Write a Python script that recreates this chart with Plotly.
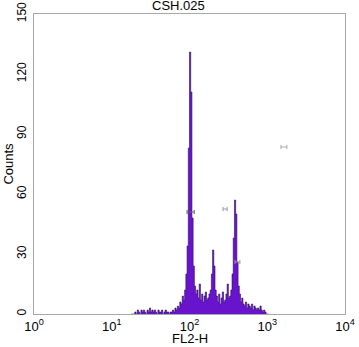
import plotly.graph_objects as go
import numpy as np

# Histogram: 256 log channels over 4 decades; counts for channels starting at first_channel
channels_per_decade = 64
first_channel = 80
counts = [0, 0, 0, 1, 0, 2, 1, 0, 2, 1,
          2, 1, 0, 2, 1, 3, 1, 2, 1, 2,
          1, 0, 2, 1, 1, 2, 0, 1, 2, 1,
          1, 0, 1, 1, 2, 1, 3, 2, 4, 3,
          6, 5, 9, 7, 12, 20, 34, 83, 131, 111,
          48, 24, 14, 10, 12, 8, 15, 7, 10, 6,
          9, 11, 7, 8, 10, 12, 20, 32, 24, 12,
          9, 6, 10, 5, 8, 11, 6, 7, 10, 15,
          8, 9, 12, 20, 38, 57, 50, 26, 14, 10,
          6, 8, 5, 4, 6, 3, 5, 4, 3, 5,
          2, 4, 3, 2, 3, 2, 4, 2, 1, 2,
          1, 0, 0]

# Gate markers (FL2-H range and count level)
gate_lo = [93, 270, 385, 1500]
gate_hi = [115, 305, 445, 1790]
gate_y = [51, 52.5, 26, 83.5]
gate_colors = ["#666666", "#999999", "#999999", "#aaaaaa"]

x_tickvals = [1, 10, 100, 1000, 10000]
x_ticktext = ["10<sup>0</sup>", "10<sup>1</sup>", "10<sup>2</sup>", "10<sup>3</sup>", "10<sup>4</sup>"]
y_tickvals = [0, 30, 60, 90, 120, 150]

n = len(counts)
ch = np.arange(first_channel, first_channel + n + 1)
edges = 10 ** (ch / channels_per_decade)
yvals = list(counts) + [counts[-1]]

fig = go.Figure()
fig.add_trace(go.Scatter(
    x=edges, y=yvals, mode="lines", line_shape="hv",
    fill="tozeroy", fillcolor="#6814cc",
    line=dict(color="#2e0b5c", width=0.6),
    hoverinfo="skip", showlegend=False))

for lo, hi, yy, c in zip(gate_lo, gate_hi, gate_y, gate_colors):
    fig.add_trace(go.Scatter(
        x=[lo, hi], y=[yy, yy], mode="lines+markers",
        line=dict(color=c, width=1),
        marker=dict(symbol="line-ns", size=3, line=dict(color=c, width=1)),
        showlegend=False, hoverinfo="skip"))

FONT = "Liberation Sans, Arial, sans-serif"
fig.update_layout(
    width=359, height=347,
    margin=dict(l=34, r=14, t=14, b=33, autoexpand=False),
    paper_bgcolor="white", plot_bgcolor="white",
    font=dict(family=FONT, size=12, color="black"),
    xaxis=dict(type="log", range=[0, 4], tickvals=x_tickvals, ticktext=x_ticktext,
               showgrid=False, zeroline=False, showline=True, linecolor="#a8a8a8",
               linewidth=1, mirror=True, ticks="", tickfont=dict(size=13),
               automargin=False),
    yaxis=dict(range=[0, 150], tickvals=y_tickvals, tickangle=-90,
               showgrid=False, zeroline=False, showline=True, linecolor="#a8a8a8",
               linewidth=1, mirror=True, ticks="", tickfont=dict(size=12),
               automargin=False, ticklabelstandoff=2),
    annotations=[
        dict(text="CSH.025", xref="paper", yref="paper", x=0.466, y=1.0,
             xanchor="center", yanchor="bottom", showarrow=False, borderpad=0,
             font=dict(size=13)),
        dict(text="FL2-H", xref="paper", yref="paper", x=0.5, y=-0.054,
             xanchor="center", yanchor="top", showarrow=False, borderpad=0,
             font=dict(size=13)),
        dict(text="Counts", xref="paper", yref="paper", x=-0.085, y=0.5,
             xanchor="center", yanchor="middle", textangle=-90, showarrow=False,
             font=dict(size=13)),
    ],
)

fig.write_html("out.html", config={"displayModeBar": False},
               post_script="document.body.style.margin='0';document.body.style.overflow='hidden';")
